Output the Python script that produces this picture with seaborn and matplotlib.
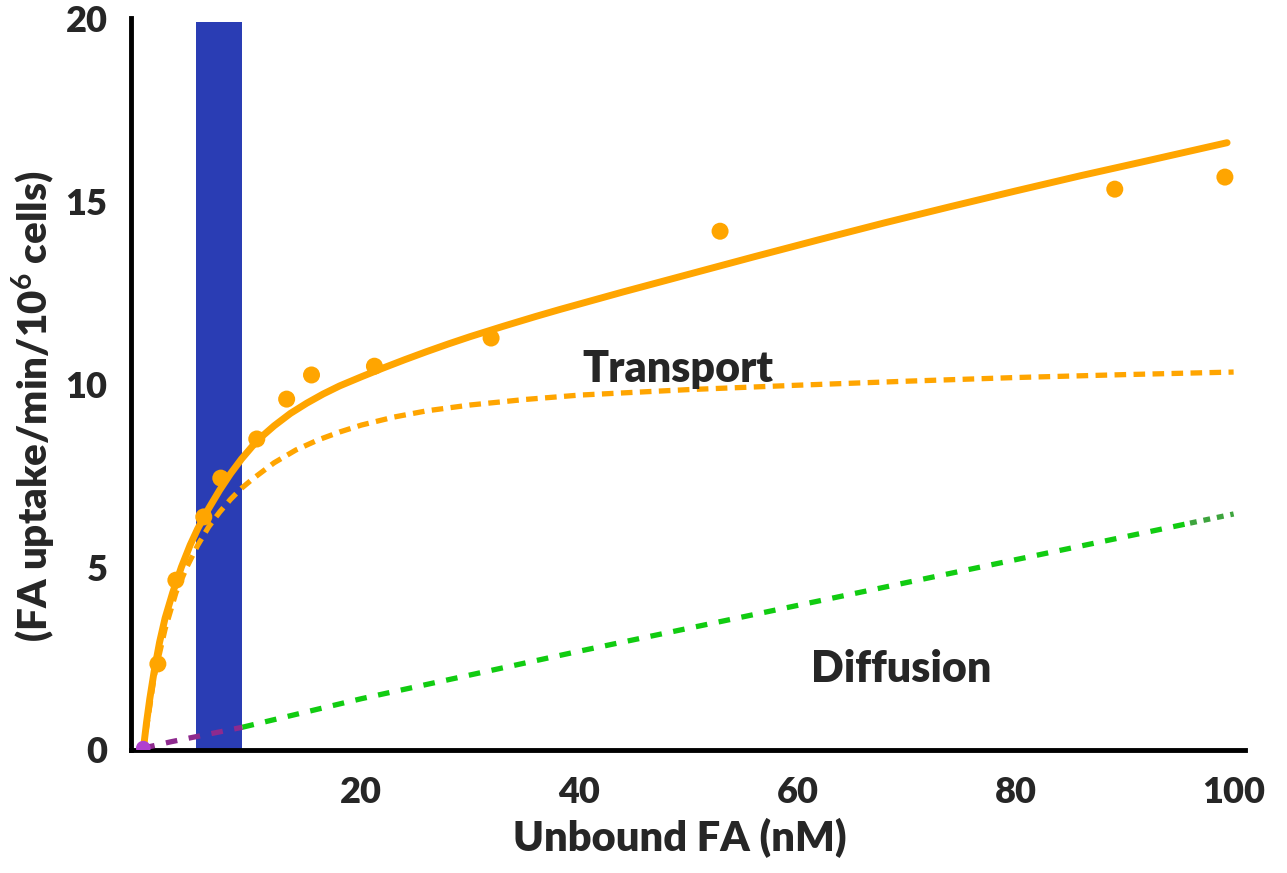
import numpy as np
import pandas as pd
import seaborn as sns
import matplotlib.pyplot as plt

sns.set_style('white')
plt.rcParams['font.family'] = ['Lato', 'DejaVu Sans']
plt.rcParams['font.weight'] = 'bold'
plt.rcParams['mathtext.fontset'] = 'custom'
plt.rcParams['mathtext.rm'] = 'Lato:bold'
plt.rcParams['mathtext.bf'] = 'Lato:bold'

# measured points
pt_x = [1.34, 2.99, 5.55, 7.11, 10.41, 13.15, 15.43, 21.2, 31.9, 52.9, 89.1, 99.2]
pt_y = [2.35, 4.64, 6.37, 7.43, 8.5, 9.59, 10.25, 10.49, 11.26, 14.18, 15.33, 15.66]

# total fit (solid)
tot_x = [0, 0.3, 0.6, 1.0, 1.5, 2.0, 2.7, 3.5, 4.3, 5.0, 6.0, 7.0, 8.0, 9.0, 10.0, 11.0,
         12.0, 13.5, 15.0, 16.5, 18.0, 20.0, 22.0, 24.0, 26.0, 28.0, 30.0, 33.0, 36.0, 38.2,
         44.0, 50.0, 56.0, 62.0, 68.0, 74.0, 80.0, 86.0, 92.0, 99.4]
tot_y = [0, 0.75, 1.4, 2.15, 2.95, 3.6, 4.3, 5.0, 5.6, 6.05, 6.6, 7.1, 7.55, 7.95, 8.3, 8.6,
         8.86, 9.2, 9.48, 9.73, 9.95, 10.2, 10.44, 10.67, 10.89, 11.1, 11.3, 11.58, 11.85,
         12.04, 12.52, 13.0, 13.48, 13.95, 14.41, 14.85, 15.28, 15.7, 16.1, 16.6]

# transport (dashed orange)
tr_x = [0, 1, 2, 3, 4, 5, 6, 7, 8, 9, 10, 12, 14, 16, 18, 20, 23, 26, 30, 35, 40, 50, 60,
        70, 80, 90, 100]
tr_y = [0, 2.0, 3.3, 4.3, 5.0, 5.6, 6.1, 6.5, 6.85, 7.15, 7.4, 7.85, 8.2, 8.47, 8.69, 8.88,
        9.1, 9.27, 9.43, 9.58, 9.7, 9.85, 9.97, 10.08, 10.18, 10.26, 10.33]

# diffusion (dashed)
dp_x = [0, 2.5, 9.1]
dp_y = [0.05, 0.22, 0.62]
dg_x = [9.1, 20, 40, 60, 80, 96]
dg_y = [0.62, 1.4, 2.7, 3.95, 5.2, 6.2]
dd_x = [96, 100]
dd_y = [6.2, 6.45]

bar_lo, bar_hi = 4.8, 9.1

orange = '#FFA500'
fig = plt.figure(figsize=(12.87, 8.73), dpi=100)
ax = fig.add_axes([0.102, 0.141, 0.865, 0.838])

ax.axvspan(bar_lo, bar_hi, ymin=0, ymax=0.995, color='#2A3DB4', zorder=1, lw=0)

sns.lineplot(x=tr_x, y=tr_y, ax=ax, color=orange, lw=3.8, zorder=3)
ax.lines[-1].set_linestyle((0, (2.2, 1.4)))
sns.lineplot(x=dp_x, y=dp_y, ax=ax, color='#8E2A8E', lw=3.8, zorder=3)
ax.lines[-1].set_linestyle((0, (2.2, 2.2)))
sns.lineplot(x=dg_x, y=dg_y, ax=ax, color='#11CC11', lw=3.8, zorder=3)
ax.lines[-1].set_linestyle((0, (2.2, 2.2)))
sns.lineplot(x=dd_x, y=dd_y, ax=ax, color='#3DA43D', lw=3.8, zorder=3)
ax.lines[-1].set_linestyle((0, (1.3, 1.3)))
sns.lineplot(x=tot_x, y=tot_y, ax=ax, color=orange, lw=5, zorder=4)
ax.lines[-1].set_solid_joinstyle('round')
sns.scatterplot(x=pt_x, y=pt_y, ax=ax, color=orange, s=150, edgecolor='none', zorder=5)
ax.scatter([0], [0.05], s=110, color='#B040D0', zorder=6, edgecolor='none')

ax.set_xlim(-1.1, 101)
ax.set_ylim(0, 20)
ax.set_xticks([20, 40, 60, 80, 100])
ax.set_yticks([0, 5, 10, 15, 20])
ax.tick_params(axis='both', labelsize=26, width=2, length=10, direction='inout')
ax.tick_params(axis='x', pad=14)
ax.tick_params(axis='y', pad=12)
for lab in ax.get_xticklabels() + ax.get_yticklabels():
    lab.set_fontweight('heavy')

for side in ['top', 'right']:
    ax.spines[side].set_visible(False)
for side in ['left', 'bottom']:
    ax.spines[side].set_color('black')
    ax.spines[side].set_linewidth(3.5)

ax.set_xlabel('Unbound FA (nM)', fontsize=30, fontweight='heavy')
ax.set_ylabel('(FA uptake/min/10$^{6}$ cells)', fontsize=29, fontweight='heavy')
ax.xaxis.set_label_coords(0.493, -0.093)
ax.yaxis.set_label_coords(-0.066, 0.47)

ax.text(49, 10.4, 'Transport', fontsize=31, fontweight='heavy', ha='center', va='center')
ax.text(69.5, 2.2, 'Diffusion', fontsize=31, fontweight='heavy', ha='center', va='center')

fig.savefig('out.png', dpi=100)
